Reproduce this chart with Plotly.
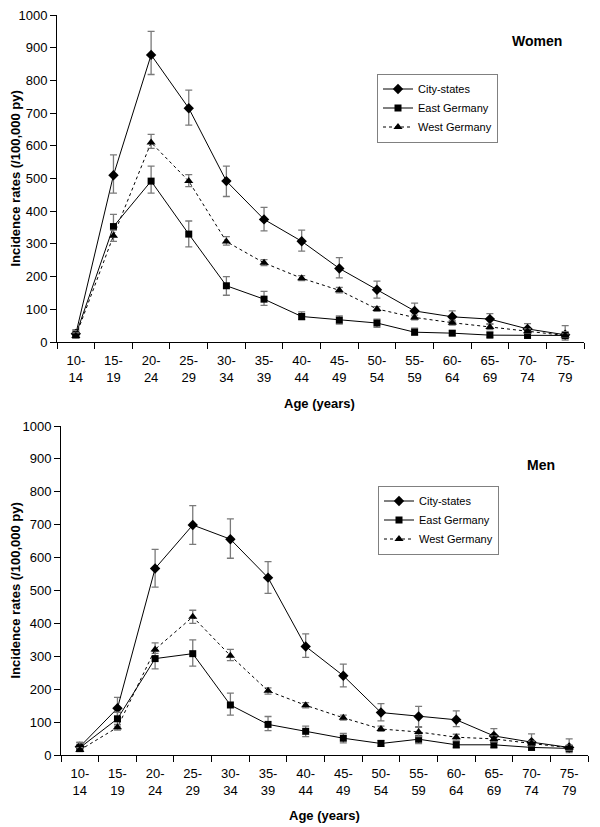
import plotly.graph_objects as go

age_groups = ["10-<br>14", "15-<br>19", "20-<br>24", "25-<br>29", "30-<br>34", "35-<br>39", "40-<br>44",
              "45-<br>49", "50-<br>54", "55-<br>59", "60-<br>64", "65-<br>69", "70-<br>74", "75-<br>79"]
series_names = ["City-states", "East Germany", "West Germany"]
y_ticks = [0, 100, 200, 300, 400, 500, 600, 700, 800, 900, 1000]

# Women
w_city = [25, 510, 878, 715, 492, 375, 308, 225, 160, 95, 77, 70, 40, 22]
w_city_hi = [38, 572, 950, 770, 538, 412, 342, 258, 186, 119, 95, 87, 56, 50]
w_city_lo = [14, 455, 818, 663, 445, 340, 278, 196, 134, 73, 62, 55, 21, 6]
w_east = [22, 353, 492, 330, 172, 131, 78, 67, 58, 30, 27, 21, 20, 20]
w_east_hi = [35, 390, 538, 370, 200, 155, 92, 80, 70, 42, 34, 31, 30, 32]
w_east_lo = [12, 322, 455, 291, 143, 112, 68, 55, 45, 21, 21, 15, 12, 10]
w_west = [18, 325, 610, 492, 307, 242, 195, 158, 101, 75, 59, 46, 33, 20]
w_west_hi = [28, 342, 635, 512, 322, 252, 203, 167, 108, 82, 66, 55, 40, 25]
w_west_lo = [12, 308, 592, 475, 296, 234, 188, 150, 94, 68, 52, 38, 27, 15]

# Men
m_city = [25, 142, 567, 699, 656, 539, 330, 241, 129, 117, 107, 58, 39, 23]
m_city_hi = [38, 175, 625, 758, 718, 588, 368, 276, 156, 148, 134, 80, 64, 49]
m_city_lo = [14, 108, 510, 640, 598, 491, 297, 207, 104, 86, 86, 40, 23, 7]
m_east = [22, 110, 293, 308, 152, 93, 72, 51, 35, 48, 31, 31, 23, 20]
m_east_hi = [38, 130, 315, 350, 188, 117, 88, 66, 44, 60, 41, 41, 32, 28]
m_east_lo = [12, 88, 262, 270, 121, 74, 56, 37, 26, 35, 22, 22, 15, 12]
m_west = [15, 84, 321, 420, 302, 195, 151, 113, 79, 70, 54, 49, 35, 22]
m_west_hi = [22, 93, 341, 440, 321, 204, 159, 121, 88, 84, 63, 58, 42, 30]
m_west_lo = [10, 76, 309, 400, 287, 185, 143, 106, 72, 56, 45, 40, 28, 15]

FONT = "Arial, Liberation Sans, sans-serif"
ERR_COLOR = "#7a7a7a"

# the page body has an 8px margin; the figure is sized to fill the rest of the window
OFF = 8
W, H = 600 - OFF, 827 - OFF


def px(x):
    return (x - OFF) / W


def py(y):
    return 1 - (y - OFF) / H


fig = go.Figure()

styles = [
    dict(symbol="diamond", size=8, dash="solid"),
    dict(symbol="square", size=7, dash="solid"),
    dict(symbol="triangle-up", size=8, dash="dot"),
]


def add_series(vals, hi, lo, idx, xa, ya, legend):
    st = styles[idx]
    fig.add_trace(go.Scatter(
        x=age_groups, y=vals, name=series_names[idx], mode="lines+markers",
        xaxis=xa, yaxis=ya, legend=legend,
        line=dict(color="black", width=1, dash=st["dash"]),
        marker=dict(symbol=st["symbol"], size=st["size"], color="black"),
        error_y=dict(type="data", symmetric=False,
                     array=[h - v for h, v in zip(hi, vals)],
                     arrayminus=[v - l for v, l in zip(vals, lo)],
                     color=ERR_COLOR, thickness=1.3, width=3.5),
    ))


add_series(w_city, w_city_hi, w_city_lo, 0, "x", "y", "legend")
add_series(w_east, w_east_hi, w_east_lo, 1, "x", "y", "legend")
add_series(w_west, w_west_hi, w_west_lo, 2, "x", "y", "legend")
add_series(m_city, m_city_hi, m_city_lo, 0, "x2", "y2", "legend2")
add_series(m_east, m_east_hi, m_east_lo, 1, "x2", "y2", "legend2")
add_series(m_west, m_west_hi, m_west_lo, 2, "x2", "y2", "legend2")

xaxis_common = dict(type="category", categoryorder="array", categoryarray=age_groups,
                    range=[-0.5, 13.5], tickson="boundaries", ticks="outside", ticklen=6,
                    tickcolor="black", showline=True, linecolor="black", linewidth=1,
                    showgrid=False, zeroline=False, ticklabelstandoff=6, automargin=False,
                    ticklabeloverflow="allow",
                    tickfont=dict(family=FONT, size=13, color="black"))
yaxis_common = dict(range=[0, 1000], tickvals=y_ticks, ticks="outside", ticklen=6,
                    tickcolor="black", showline=True, linecolor="black", linewidth=1,
                    showgrid=False, zeroline=False, automargin=False,
                    ticklabeloverflow="allow",
                    tickfont=dict(family=FONT, size=13, color="black"))

legend_common = dict(bgcolor="white", bordercolor="#808080", borderwidth=1,
                     font=dict(family=FONT, size=11, color="black"),
                     itemwidth=30, tracegroupgap=0, xanchor="left", yanchor="top",
                     itemclick=False)

fig.update_layout(
    width=W, height=H,
    margin=dict(l=0, r=0, t=0, b=0, pad=0, autoexpand=False),
    paper_bgcolor="white", plot_bgcolor="white",
    font=dict(family=FONT, color="black"),
    xaxis=dict(domain=[px(57), px(584)], anchor="y", **xaxis_common),
    yaxis=dict(domain=[py(342), py(15)], anchor="x", **yaxis_common),
    xaxis2=dict(domain=[px(61), px(588)], anchor="y2", **xaxis_common),
    yaxis2=dict(domain=[py(755), py(426)], anchor="x2", **yaxis_common),
    legend=dict(x=px(377), y=py(73.5), **legend_common),
    legend2=dict(x=px(378), y=py(485.5), **legend_common),
    showlegend=True,
)

annots = [
    dict(text="<b>Women</b>", x=537, y=41, size=14),
    dict(text="<b>Men</b>", x=541, y=465, size=14),
    dict(text="<b>Age (years)</b>", x=320, y=403, size=13),
    dict(text="<b>Age (years)</b>", x=324, y=815, size=13),
    dict(text="<b>Incidence rates (/100,000 py)</b>", x=15, y=178.5, size=13, angle=-90),
    dict(text="<b>Incidence rates (/100,000 py)</b>", x=15, y=590.5, size=13, angle=-90),
]
for a in annots:
    fig.add_annotation(text=a["text"], x=px(a["x"]), y=py(a["y"]), xref="paper", yref="paper",
                       showarrow=False, xanchor="center", yanchor="middle",
                       textangle=a.get("angle", 0),
                       font=dict(family=FONT, size=a["size"], color="black"))

fig.write_html("out.html")
